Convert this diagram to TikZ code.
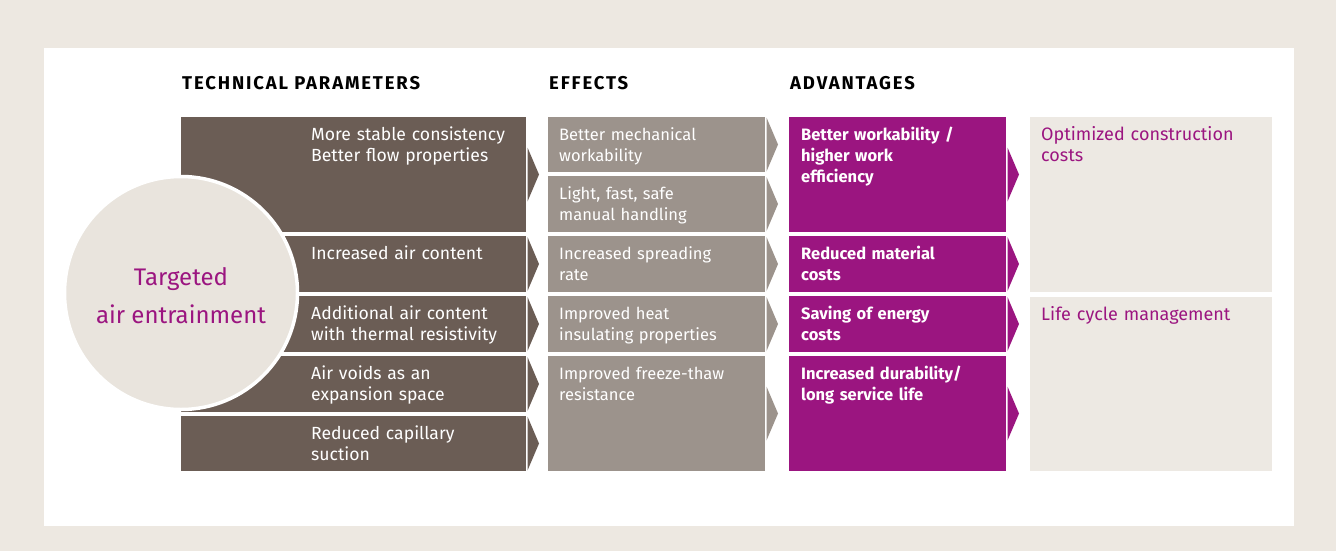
\documentclass[tikz,border=0pt]{standalone}
\usepackage{fontspec}
\setmainfont{Fira Sans}
\usepackage{tikz}
\usetikzlibrary{positioning}

\definecolor{tpbrown}{HTML}{6B5D55}
\definecolor{efgray}{HTML}{9C938C}
\definecolor{admag}{HTML}{9B1580}
\definecolor{resbeige}{HTML}{EDE9E3}
\definecolor{framebeige}{HTML}{EDE8E1}
\definecolor{circbeige}{HTML}{E9E4DD}

\tikzset{
  cell/.style={rectangle, inner sep=0pt, outer sep=0pt, anchor=north west, fill=#1},
  celltext/.style={anchor=base west, inner sep=0pt, text width=230pt, align=left,
    font=\fontsize{16.5}{21}\selectfont, text=white},
  head/.style={anchor=base west, inner sep=0pt,
    font=\bfseries\fontsize{18.5}{20}\selectfont\addfontfeatures{LetterSpace=10}},
}
% arrow tip at the right side of a cell
\newcommand{\tipto}[2]{%
  \fill[#2] ([xshift=1.5pt,yshift=27pt]#1.east) -- ([xshift=13pt]#1.east)
    -- ([xshift=1.5pt,yshift=-27pt]#1.east) -- cycle;}

\begin{document}
\begin{tikzpicture}[x=1pt,y=-1pt]

\fill[framebeige] (0,0) rectangle (1336,551);
\fill[white] (44,48) rectangle (1294,526);

\node[head] (h1) at (182,89) {TECHNICAL PARAMETERS};
\node[head] (h2) at (549,89) {EFFECTS};
\node[head] (h3) at (790,89) {ADVANTAGES};

% technical parameters
\foreach \name/\top/\hgt/\txt in {tp1/117/115/{More stable consistency\\Better flow properties},
  tp2/236/56/{Increased air content}, tp3/296/56/{Additional air content\\with thermal resistivity},
  tp4/356/56/{Air voids as an\\expansion space}, tp5/416/55/{Reduced capillary\\suction}}{
  \node[cell=tpbrown, minimum width=345, minimum height=\hgt] (\name) at (181,\top) {};
  \tipto{\name}{tpbrown}
  \node[celltext, font=\fontsize{17.6}{21}\selectfont] (\name-txt)
    at ([xshift=130pt,yshift=-23pt]\name.north west) {\txt};
}

% effects
\foreach \name/\top/\hgt/\txt in {ef1/117/55/{Better mechanical\\workability},
  ef2/176/56/{Light, fast, safe\\manual handling}, ef3/236/56/{Increased spreading\\rate},
  ef4/296/56/{Improved heat\\insulating properties}, ef5/356/115/{Improved freeze-thaw\\resistance}}{
  \node[cell=efgray, minimum width=217, minimum height=\hgt] (\name) at (548,\top) {};
  \tipto{\name}{efgray}
  \node[celltext] (\name-txt) at ([xshift=11pt,yshift=-23pt]\name.north west) {\txt};
}

% advantages
\foreach \name/\top/\hgt/\txt in {ad1/117/115/{Better workability /\\higher work\\efficiency},
  ad2/236/56/{Reduced material\\costs}, ad3/296/56/{Saving of energy\\costs},
  ad4/356/115/{Increased durability/\\long service life}}{
  \node[cell=admag, minimum width=217, minimum height=\hgt] (\name) at (789,\top) {};
  \tipto{\name}{admag}
  \node[celltext, font=\bfseries\fontsize{16.5}{21}\selectfont] (\name-txt)
    at ([xshift=12pt,yshift=-23pt]\name.north west) {\txt};
}

% results
\foreach \name/\top/\hgt/\txt in {res1/117/175/{Optimized construction\\costs},
  res2/297/174/{Life cycle management}}{
  \node[cell=resbeige, minimum width=242, minimum height=\hgt] (\name) at (1030,\top) {};
  \node[celltext, text=admag, font=\fontsize{18}{21}\selectfont] (\name-txt)
    at ([xshift=11pt,yshift=-23pt]\name.north west) {\txt};
}

\node[circle, fill=circbeige, draw=white, line width=3.5pt, minimum size=233, inner sep=0pt]
  (air) at (181,293) {};
\node[align=center, text=admag, font=\fontsize{24}{38}\selectfont] (air-txt)
  at ([yshift=-3pt]air.center) {Targeted\\air entrainment};

\end{tikzpicture}
\end{document}
